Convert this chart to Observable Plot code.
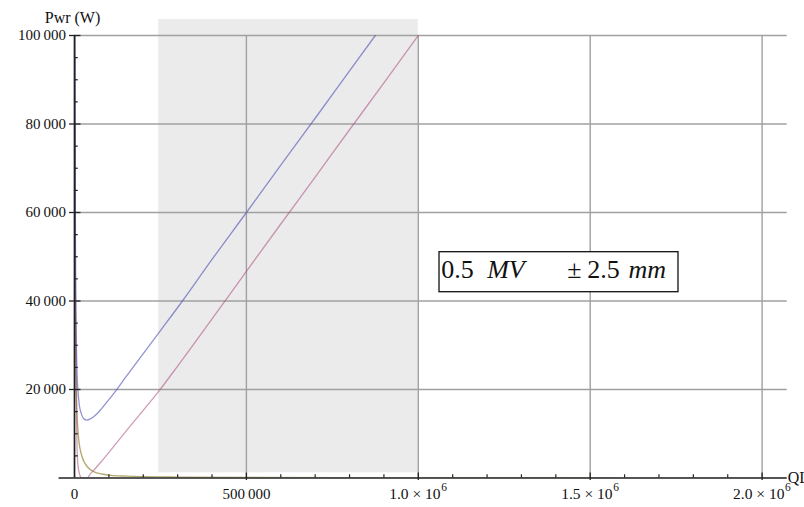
<!DOCTYPE html>
<html><head><meta charset="utf-8">
<script src="https://cdn.jsdelivr.net/npm/d3@7"></script>
<script src="https://cdn.jsdelivr.net/npm/@observablehq/plot@0.6"></script>
<style>
html,body{margin:0;padding:0;background:#fff;}
#chart{width:804px;height:507px;overflow:hidden;}
svg{overflow:visible;}
</style>
</head><body><div id="chart"></div>
<script>
// ---- data ----
const blueX = [1300, 2000, 3000, 4500, 6000, 8000, 10000, 14000, 20000, 27000, 35000, 45000, 60000, 80000, 100000, 120000, 150000, 200000, 250000, 314000, 400000, 500000, 600000, 700000, 800000, 875000];
const blueY = [107000, 72000, 50000, 35500, 28000, 22500, 19800, 16500, 14500, 13400, 13100, 13300, 14100, 15800, 17700, 19700, 22900, 28100, 33300, 40000, 49400, 60000, 70700, 81300, 92000, 100000];

const redX = [1300, 2000, 3000, 4500, 6000, 7500, 9300, 12000, 15000, 18000, 21000, 30000, 38000, 43000, 60000, 80000, 100000, 150000, 200000, 250000, 300000, 350000, 437000, 500000, 600000, 700000, 800000, 900000, 1000000];
const redY = [95000, 60000, 38000, 22000, 12500, 6500, 3500, 1800, 800, 200, 0, 0, 0, 600, 2100, 3900, 5800, 10600, 15300, 20100, 25300, 30600, 39900, 46700, 57400, 68000, 78700, 89300, 100000];

const yellowX = [1300, 2000, 3000, 4500, 6000, 9300, 13000, 19000, 27000, 38000, 57000, 80000, 106000, 150000, 203000, 300000, 500000, 800000, 1200000, 1600000, 2000000, 2073000];
const yellowY = [80000, 52000, 35000, 23500, 17500, 11500, 8200, 5600, 3800, 2500, 1360, 900, 600, 420, 300, 200, 120, 75, 50, 38, 30, 29];

const shadeX = [245000, 1000000];
const shadeY = [1175, 103600];

const xDomain = [0, 2073000];
const xAxisStart = -45000;
const yDomain = [0, 100000];

const xGrid = [500000, 1000000, 1500000, 2000000];
const yGrid = [20000, 40000, 60000, 80000, 100000];
const xMinor = d3.range(100000, 2000001, 100000).filter(v => v % 500000 !== 0);
const yMinor = d3.range(5000, 100000, 5000).filter(v => v % 20000 !== 0);

const xPlainTicks = [0, 500000];
const xPlainLabels = ["0", "500\u2009000"];
const xSciTicks = [1000000, 1500000, 2000000];
const xSciMantissa = ["1.0 \u00d7 10", "1.5 \u00d7 10", "2.0 \u00d7 10"];
const xSciExponent = ["6", "6", "6"];
const yTickLabels = ["20\u2009000", "40\u2009000", "60\u2009000", "80\u2009000", "100\u2009000"];

const yTitle = "Pwr (W)";
const xTitle = "QL";

const labelBox = {x1: 1061700, x2: 1756800, y1: 41990, y2: 51030};
const labelAnchor = {x: 1061700, y: 45240};
const labelParts = ["0.5", "MV", "\u00b1", "2.5", "mm"];
const labelItalic = [false, true, false, false, true];

// ---- build ----
const pts = (xs, ys) => xs.map((x, i) => ({x, y: ys[i]}));
const serif = "'Liberation Serif', 'Times New Roman', serif";
const labelDx = [1.7, 47.7, 127.7, 147.7, 189];

const chart = Plot.plot({
  width: 804, height: 507,
  marginLeft: 74, marginRight: 17.3, marginTop: 35, marginBottom: 29.5,
  style: {fontFamily: serif, fontSize: "15px", background: "#fff", color: "#111"},
  x: {domain: xDomain, axis: null},
  y: {domain: yDomain, axis: null},
  marks: [
    Plot.rect([0], {x1: () => shadeX[0], x2: () => shadeX[1], y1: () => shadeY[0], y2: () => shadeY[1], fill: "#ebebeb"}),
    Plot.ruleY(yGrid, {x1: () => 0, x2: () => xDomain[1], stroke: "#a0a0a0", strokeWidth: 1.4}),
    Plot.ruleX(xGrid, {y1: () => 0, y2: () => yDomain[1], stroke: "#a0a0a0", strokeWidth: 1.4}),
    // curves
    Plot.line(pts(yellowX, yellowY), {x: "x", y: "y", stroke: "#998d3d", strokeOpacity: 0.75, strokeWidth: 1.4, curve: "monotone-x", clip: true}),
    Plot.line(pts(redX, redY), {x: "x", y: "y", stroke: "#a84a7c", strokeOpacity: 0.55, strokeWidth: 1.3, curve: "monotone-x", clip: true}),
    Plot.line(pts(blueX, blueY), {x: "x", y: "y", stroke: "#5050b8", strokeOpacity: 0.62, strokeWidth: 1.3, curve: "monotone-x", clip: true}),
    // axes
    Plot.ruleY([0], {x1: () => xAxisStart, x2: () => xDomain[1], stroke: "#222", strokeWidth: 1.7}),
    Plot.ruleX([0], {y1: () => 0, y2: () => yDomain[1], stroke: "#222", strokeWidth: 1.7}),
    // x ticks
    Plot.ruleX(xMinor, {y1: () => 0, y2: () => 0, insetTop: -3.2, stroke: "#222", strokeWidth: 1.2}),
    Plot.ruleX(xGrid, {y1: () => 0, y2: () => 0, insetTop: -5, insetBottom: -2.5, stroke: "#222", strokeWidth: 1.3}),
    // y ticks
    Plot.ruleY(yMinor, {x1: () => 0, x2: () => 0, insetRight: -3.8, stroke: "#222", strokeWidth: 1.2}),
    Plot.ruleY(yGrid, {x1: () => 0, x2: () => 0, insetLeft: -5, insetRight: -6.5, stroke: "#222", strokeWidth: 1.3}),
    // tick labels
    Plot.text(yGrid, {x: () => 0, y: d => d, text: (d, i) => yTickLabels[i], textAnchor: "end", dx: -8.5, fontSize: 15, fill: "#111"}),
    Plot.text(xPlainTicks, {x: d => d, y: () => 0, text: (d, i) => xPlainLabels[i], lineAnchor: "top", dy: 10, fontSize: 15, fill: "#111"}),
    Plot.text(xSciTicks, {x: d => d, y: () => 0, text: (d, i) => xSciMantissa[i], textAnchor: "end", lineAnchor: "top", dy: 10, dx: 22.3, fontSize: 15.5, fill: "#111"}),
    Plot.text(xSciTicks, {x: d => d, y: () => 0, text: (d, i) => xSciExponent[i], textAnchor: "start", lineAnchor: "top", dy: 5, dx: 23, fontSize: 11.5, fill: "#111"}),
    // axis titles
    Plot.text([yTitle], {frameAnchor: "top-left", text: d => d, textAnchor: "middle", lineAnchor: "bottom", dx: -2, dy: -12.5, fontSize: 16, fill: "#111"}),
    Plot.text([xTitle], {frameAnchor: "bottom-right", text: d => d, textAnchor: "start", lineAnchor: "bottom", dx: 0.5, dy: 4.5, fontSize: 16, fill: "#111"}),
    // framed label
    Plot.rect([labelBox], {x1: "x1", x2: "x2", y1: "y1", y2: "y2", fill: "#fff", stroke: "#111", strokeWidth: 1.3}),
    ...labelParts.map((t, i) => Plot.text([labelAnchor], {x: "x", y: "y", text: () => t, textAnchor: "start", lineAnchor: "bottom", dx: labelDx[i], fontSize: 26, fontStyle: labelItalic[i] ? "italic" : "normal", fill: "#111"}))
  ]
});
document.getElementById("chart").appendChild(chart);
</script>
</body></html>
